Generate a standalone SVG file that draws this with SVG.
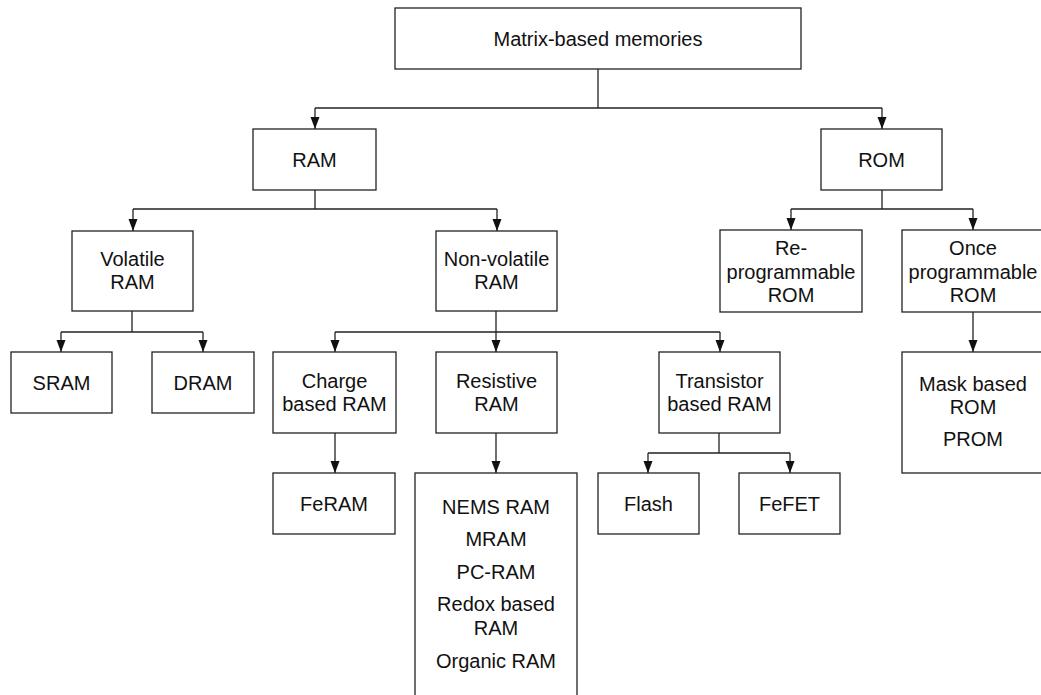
<svg xmlns="http://www.w3.org/2000/svg" width="1041" height="695" viewBox="0 0 1041 695">
<style>
.box{fill:#fff;stroke:#222;stroke-width:1.3}
.c{fill:none;stroke:#222;stroke-width:1.3}
text{font-family:"Liberation Sans",Arial,sans-serif;font-size:20px;fill:#111;text-anchor:middle}
</style>
<defs>
<marker id="arr" markerUnits="userSpaceOnUse" markerWidth="12" markerHeight="12" refX="12" refY="6" orient="auto" viewBox="0 0 12 12">
<path d="M0,1.5 L12,6 L0,10.5 Z" fill="#111"/>
</marker>
</defs>
<rect width="1041" height="695" fill="#fff"/>
<g id="connectors">
<path class="c" d="M598,69 V108"/>
<path class="c" d="M315,108 H882"/>
<path class="c" d="M315,108 V129" marker-end="url(#arr)"/>
<path class="c" d="M882,108 V129" marker-end="url(#arr)"/>
<path class="c" d="M315,190 V209 M133,209 H497"/>
<path class="c" d="M133,209 V231" marker-end="url(#arr)"/>
<path class="c" d="M497,209 V231" marker-end="url(#arr)"/>
<path class="c" d="M882,190 V209 M791,209 H973"/>
<path class="c" d="M791,209 V230" marker-end="url(#arr)"/>
<path class="c" d="M973,209 V230" marker-end="url(#arr)"/>
<path class="c" d="M132,311 V332 M61,332 H203"/>
<path class="c" d="M61,332 V352" marker-end="url(#arr)"/>
<path class="c" d="M203,332 V352" marker-end="url(#arr)"/>
<path class="c" d="M496,311 V332 M335,332 H720"/>
<path class="c" d="M335,332 V352" marker-end="url(#arr)"/>
<path class="c" d="M496,332 V352" marker-end="url(#arr)"/>
<path class="c" d="M720,332 V352" marker-end="url(#arr)"/>
<path class="c" d="M335,433 V473" marker-end="url(#arr)"/>
<path class="c" d="M496,433 V473" marker-end="url(#arr)"/>
<path class="c" d="M719,433 V453 M648,453 H790"/>
<path class="c" d="M648,453 V473" marker-end="url(#arr)"/>
<path class="c" d="M790,453 V473" marker-end="url(#arr)"/>
<path class="c" d="M973,312 V352" marker-end="url(#arr)"/>
</g>
<g id="n-root"><rect class="box" x="395" y="8" width="406" height="61"/><text x="598" y="46">Matrix-based memories</text></g>
<g id="n-ram"><rect class="box" x="253" y="129" width="123" height="61"/><text x="314.5" y="167">RAM</text></g>
<g id="n-rom"><rect class="box" x="821" y="129" width="121" height="61"/><text x="881.5" y="167">ROM</text></g>
<g id="n-volatile"><rect class="box" x="72" y="231" width="121" height="80"/><text x="132.5" y="266">Volatile</text><text x="132.5" y="289">RAM</text></g>
<g id="n-nonvolatile"><rect class="box" x="436" y="231" width="121" height="80"/><text x="496.5" y="266">Non-volatile</text><text x="496.5" y="289">RAM</text></g>
<g id="n-reprog"><rect class="box" x="720" y="230" width="142" height="82"/><text x="791" y="255">Re-</text><text x="791" y="279">programmable</text><text x="791" y="302">ROM</text></g>
<g id="n-once"><rect class="box" x="902" y="230" width="142" height="82"/><text x="973" y="255">Once</text><text x="973" y="279">programmable</text><text x="973" y="302">ROM</text></g>
<g id="n-sram"><rect class="box" x="11" y="352" width="101" height="61"/><text x="61.5" y="390">SRAM</text></g>
<g id="n-dram"><rect class="box" x="152" y="352" width="102" height="61"/><text x="203" y="390">DRAM</text></g>
<g id="n-charge"><rect class="box" x="273" y="352" width="123" height="81"/><text x="334.5" y="388">Charge</text><text x="334.5" y="411">based RAM</text></g>
<g id="n-resistive"><rect class="box" x="436" y="352" width="121" height="81"/><text x="496.5" y="388">Resistive</text><text x="496.5" y="411">RAM</text></g>
<g id="n-transistor"><rect class="box" x="659" y="352" width="121" height="81"/><text x="719.5" y="388">Transistor</text><text x="719.5" y="411">based RAM</text></g>
<g id="n-mask"><rect class="box" x="902" y="352" width="142" height="121"/><text x="973" y="391">Mask based</text><text x="973" y="414">ROM</text><text x="973" y="446">PROM</text></g>
<g id="n-feram"><rect class="box" x="273" y="473" width="122" height="61"/><text x="334" y="511">FeRAM</text></g>
<g id="n-resist-list"><rect class="box" x="415" y="473" width="162" height="240"/><text x="496" y="514">NEMS RAM</text><text x="496" y="546">MRAM</text><text x="496" y="579">PC-RAM</text><text x="496" y="611">Redox based</text><text x="496" y="635">RAM</text><text x="496" y="668">Organic RAM</text></g>
<g id="n-flash"><rect class="box" x="598" y="473" width="101" height="61"/><text x="648.5" y="511">Flash</text></g>
<g id="n-fefet"><rect class="box" x="739" y="473" width="101" height="61"/><text x="789.5" y="511">FeFET</text></g>
</svg>
